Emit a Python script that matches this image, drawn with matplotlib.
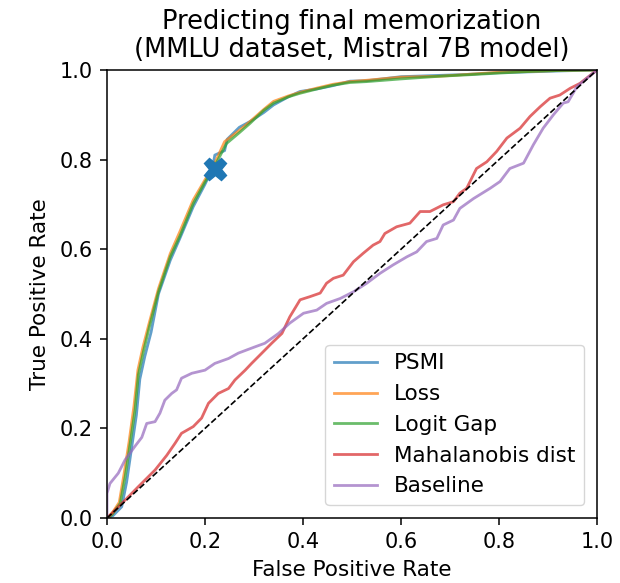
import matplotlib
matplotlib.use("Agg")
import matplotlib.pyplot as plt

# ROC curves (FPR, TPR)
gap_fpr = [0.0, 0.01, 0.027, 0.037, 0.047, 0.057, 0.064, 0.074, 0.086, 0.105, 0.129, 0.149, 0.176, 0.20, 0.217, 0.244, 0.27, 0.292, 0.32, 0.34, 0.37, 0.394, 0.43, 0.461, 0.496, 0.53, 0.6, 0.68, 0.734, 0.8, 0.87, 0.93, 1.0]
gap_tpr = [0.0, 0.007, 0.033, 0.092, 0.165, 0.24, 0.32, 0.37, 0.425, 0.505, 0.583, 0.63, 0.702, 0.75, 0.78, 0.836, 0.86, 0.881, 0.91, 0.926, 0.94, 0.948, 0.958, 0.966, 0.972, 0.974, 0.98, 0.986, 0.989, 0.993, 0.997, 0.999, 1.0]

loss_fpr = [0.0, 0.01, 0.025, 0.035, 0.045, 0.055, 0.063, 0.073, 0.086, 0.105, 0.129, 0.149, 0.176, 0.20, 0.217, 0.24, 0.27, 0.292, 0.32, 0.34, 0.37, 0.394, 0.43, 0.461, 0.496, 0.53, 0.6, 0.68, 0.734, 0.8, 0.87, 0.93, 1.0]
loss_tpr = [0.0, 0.01, 0.035, 0.1, 0.17, 0.25, 0.33, 0.38, 0.435, 0.512, 0.59, 0.64, 0.71, 0.755, 0.785, 0.84, 0.865, 0.885, 0.912, 0.93, 0.942, 0.95, 0.96, 0.968, 0.974, 0.977, 0.984, 0.986, 0.99, 0.995, 0.997, 0.999, 1.0]

psmi_fpr = [0.0, 0.012, 0.03, 0.04, 0.05, 0.06, 0.067, 0.077, 0.09, 0.105, 0.129, 0.149, 0.176, 0.20, 0.215, 0.22, 0.24, 0.245, 0.27, 0.292, 0.32, 0.34, 0.37, 0.394, 0.43, 0.461, 0.496, 0.53, 0.6, 0.68, 0.734, 0.8, 0.87, 0.93, 1.0]
psmi_tpr = [0.0, 0.005, 0.025, 0.08, 0.155, 0.23, 0.31, 0.36, 0.415, 0.5, 0.575, 0.625, 0.695, 0.745, 0.78, 0.81, 0.82, 0.845, 0.872, 0.885, 0.905, 0.922, 0.94, 0.952, 0.958, 0.965, 0.975, 0.976, 0.985, 0.988, 0.99, 0.994, 0.996, 0.998, 1.0]

maha_fpr = [0.0, 0.003, 0.037, 0.064, 0.098, 0.122, 0.139, 0.152, 0.176, 0.193, 0.207, 0.227, 0.248, 0.261, 0.282, 0.295, 0.316, 0.336, 0.357, 0.373, 0.394, 0.414, 0.435, 0.448, 0.462, 0.482, 0.503, 0.523, 0.543, 0.557, 0.567, 0.591, 0.618, 0.639, 0.659, 0.686, 0.707, 0.72, 0.734, 0.754, 0.775, 0.795, 0.816, 0.843, 0.863, 0.884, 0.904, 0.924, 0.945, 0.965, 1.0]
maha_tpr = [0.0, 0.003, 0.04, 0.07, 0.107, 0.14, 0.167, 0.189, 0.204, 0.223, 0.256, 0.278, 0.289, 0.308, 0.33, 0.345, 0.368, 0.39, 0.412, 0.449, 0.487, 0.494, 0.502, 0.524, 0.535, 0.542, 0.572, 0.591, 0.609, 0.617, 0.635, 0.65, 0.658, 0.684, 0.684, 0.699, 0.706, 0.725, 0.736, 0.78, 0.795, 0.818, 0.848, 0.87, 0.896, 0.918, 0.937, 0.944, 0.959, 0.97, 1.0]

base_fpr = [0.0, 0.0, 0.006, 0.023, 0.037, 0.057, 0.071, 0.081, 0.098, 0.108, 0.118, 0.132, 0.142, 0.152, 0.173, 0.2, 0.22, 0.248, 0.268, 0.302, 0.322, 0.35, 0.373, 0.401, 0.428, 0.448, 0.476, 0.503, 0.53, 0.557, 0.584, 0.612, 0.632, 0.652, 0.673, 0.686, 0.707, 0.72, 0.748, 0.782, 0.802, 0.822, 0.85, 0.87, 0.89, 0.911, 0.931, 0.941, 0.959, 0.979, 1.0]
base_tpr = [0.0, 0.055, 0.077, 0.10, 0.13, 0.16, 0.18, 0.211, 0.215, 0.234, 0.263, 0.278, 0.286, 0.312, 0.323, 0.33, 0.345, 0.356, 0.368, 0.382, 0.39, 0.412, 0.435, 0.457, 0.464, 0.479, 0.49, 0.505, 0.524, 0.546, 0.565, 0.583, 0.594, 0.617, 0.624, 0.654, 0.665, 0.691, 0.713, 0.736, 0.751, 0.78, 0.792, 0.833, 0.87, 0.9, 0.926, 0.929, 0.963, 0.981, 1.0]

marker_point = (0.22, 0.78)

fig = plt.figure(figsize=(6.2, 5.83), dpi=100)
ax = fig.add_axes([0.1726, 0.1115, 0.7904, 0.7685])

lw = 2.0
ax.plot(psmi_fpr, psmi_tpr, color="tab:blue", alpha=0.7, lw=lw, label="PSMI")
ax.plot(loss_fpr, loss_tpr, color="tab:orange", alpha=0.7, lw=lw, label="Loss")
ax.plot(gap_fpr, gap_tpr, color="tab:green", alpha=0.7, lw=lw, label="Logit Gap")
ax.plot(maha_fpr, maha_tpr, color="tab:red", alpha=0.7, lw=lw, label="Mahalanobis dist")
ax.plot(base_fpr, base_tpr, color="tab:purple", alpha=0.7, lw=lw, label="Baseline")
ax.plot([0, 1], [0, 1], "k--", lw=1.2)
ax.plot([marker_point[0]], [marker_point[1]], marker="X", color="tab:blue", markersize=16, linestyle="none")

for s in ax.spines.values():
    s.set_linewidth(1.1)
ax.set_xlim(0, 1)
ax.set_ylim(0, 1)
ax.set_xticks([0, 0.2, 0.4, 0.6, 0.8, 1.0])
ax.set_yticks([0, 0.2, 0.4, 0.6, 0.8, 1.0])
ax.tick_params(labelsize=15, length=5, width=1.1, pad=5)
ax.set_xlabel("False Positive Rate", fontsize=15.5, labelpad=6)
ax.set_ylabel("True Positive Rate", fontsize=15.5, labelpad=7)
ax.set_title("Predicting final memorization\n(MMLU dataset, Mistral 7B model)", fontsize=18.5, pad=9, linespacing=1.1)
ax.legend(loc="lower right", fontsize=15.5, handlelength=2.0, borderaxespad=0.6)

fig.savefig("out.png", dpi=100)
